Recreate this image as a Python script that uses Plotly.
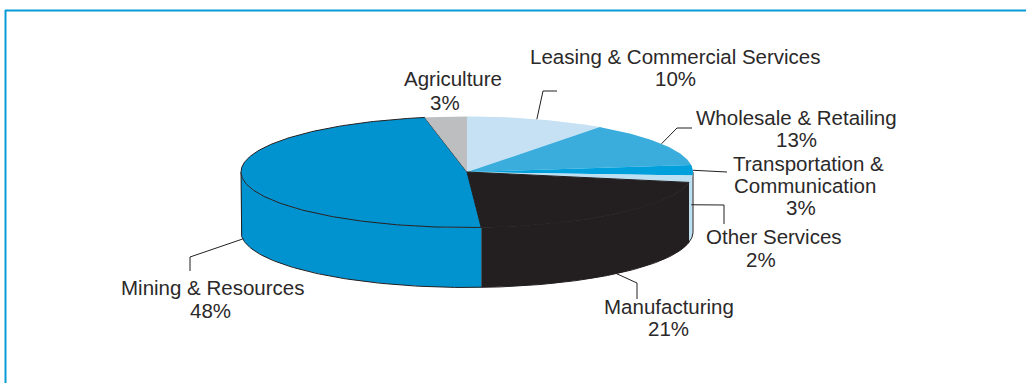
import numpy as np
import plotly.graph_objects as go

# Share of output by sector (%), listed clockwise from 12 o'clock
sectors = ["Leasing & Commercial Services", "Wholesale & Retailing",
           "Transportation & Communication", "Other Services",
           "Manufacturing", "Mining & Resources", "Agriculture"]
shares = [10, 13, 3, 2, 21, 48, 3]
colors = ["#c6e1f4", "#3aaddc", "#00a0dc", "#bddff2", "#231f20", "#0093d0", "#bcbec0"]

# Label text lines for each sector
label_lines = [
    ["Leasing & Commercial Services", "10%"],
    ["Wholesale & Retailing", "13%"],
    ["Transportation &", "Communication", "3%"],
    ["Other Services", "2%"],
    ["Manufacturing", "21%"],
    ["Mining & Resources", "48%"],
    ["Agriculture", "3%"],
]

# Geometry of the tilted pie (pixel space)
W, H = 1026, 383
CX, CY, RX, RY, DEPTH = 467, 172, 226, 55.5, 60
INK = "#231f20"

# Label placement: centre x and middle y for each text line
label_pos = [
    [(675, 56), (675, 78)],
    [(796, 117), (796, 139)],
    [(808, 163), (805, 185), (801, 207)],
    [(774, 236), (761, 259)],
    [(669, 306), (668, 328)],
    [(212, 287), (210, 310)],
    [(453, 78), (445, 102)],
]
# Leader lines: fraction of wall depth at the anchor, then elbow points
leaders = [
    (0.0, [(543, 91), (557, 91)]),
    (0.0, [(677, 128), (692, 128)]),
    (0.0, [(727, 172)]),
    (0.43, [(724, 205), (724, 224)]),
    (1.0, [(637, 283), (637, 299)]),
    (1.0, [(190, 257), (190, 271)]),
    None,
]


def rim(theta_deg, drop=0.0):
    t = np.radians(theta_deg)
    return CX + RX * np.cos(t), CY - RY * np.sin(t) + drop


total = float(sum(shares))
cum = np.concatenate([[0.0], np.cumsum(shares)]) / total * 360.0
a_start = 90.0 - cum[:-1]
a_end = 90.0 - cum[1:]

fig = go.Figure()

# Front walls (visible part of each slice's outer side)
for i, name in enumerate(sectors):
    lo, hi = max(a_end[i], -180.0), min(a_start[i], 0.0)
    if lo >= hi:
        continue
    th = np.linspace(hi, lo, 80)
    xt, yt = rim(th)
    xb, yb = rim(th[::-1], DEPTH)
    fig.add_trace(go.Scatter(
        x=np.concatenate([xt, xb, xt[:1]]), y=np.concatenate([yt, yb, yt[:1]]),
        mode="lines", fill="toself", fillcolor=colors[i],
        line=dict(width=0, color=colors[i]), hoverinfo="skip", showlegend=False))

# Outline of the front wall: left edge, bottom arc, right edge
th = np.linspace(-180, 0, 200)
bx, by = rim(th, DEPTH)
lx, ly = rim(-180.0)
rx_, ry_ = rim(0.0)
fig.add_trace(go.Scatter(
    x=np.concatenate([[lx], bx, [rx_]]), y=np.concatenate([[ly], by, [ry_]]),
    mode="lines", line=dict(color=INK, width=1), hoverinfo="skip", showlegend=False))

# Top faces of the slices
for i, name in enumerate(sectors):
    th = np.linspace(a_start[i], a_end[i], max(4, int(shares[i] * 4)))
    xs, ys = rim(th)
    edge = INK if name == "Mining & Resources" else colors[i]
    fig.add_trace(go.Scatter(
        x=np.concatenate([[CX], xs, [CX]]), y=np.concatenate([[CY], ys, [CY]]),
        mode="lines", fill="toself", fillcolor=colors[i],
        line=dict(width=1 if edge == INK else 0, color=edge),
        name=name, hoverinfo="name", showlegend=False))

# Leader lines from slice rims to labels
for i, ld in enumerate(leaders):
    if ld is None:
        continue
    frac, pts = ld
    mid = (a_start[i] + a_end[i]) / 2.0
    ax, ay = rim(mid, frac * DEPTH)
    xs = [ax] + [p[0] for p in pts]
    ys = [ay] + [p[1] for p in pts]
    fig.add_trace(go.Scatter(x=xs, y=ys, mode="lines",
                             line=dict(color=INK, width=1),
                             hoverinfo="skip", showlegend=False))

annotations = []
for lines, poss in zip(label_lines, label_pos):
    for txt, (x, y) in zip(lines, poss):
        annotations.append(dict(
            x=x, y=y, xref="x", yref="y", text=txt, showarrow=False,
            xanchor="center", yanchor="middle",
            font=dict(family="Liberation Sans, Arial, sans-serif", size=20.5, color="#2b2929")))

shapes = [
    dict(type="line", xref="x", yref="y", x0=5, x1=W, y0=10.5, y1=10.5,
         line=dict(color="#0a9bd6", width=2)),
    dict(type="line", xref="x", yref="y", x0=5.5, x1=5.5, y0=10, y1=H,
         line=dict(color="#0a9bd6", width=2)),
]

fig.update_layout(
    width=W, height=H, margin=dict(l=0, r=0, t=0, b=0),
    paper_bgcolor="white", plot_bgcolor="white",
    xaxis=dict(range=[0, W], visible=False, fixedrange=True),
    yaxis=dict(range=[H, 0], visible=False, fixedrange=True),
    annotations=annotations, shapes=shapes, showlegend=False,
)

fig.write_html("out.html", config={"displayModeBar": False})
